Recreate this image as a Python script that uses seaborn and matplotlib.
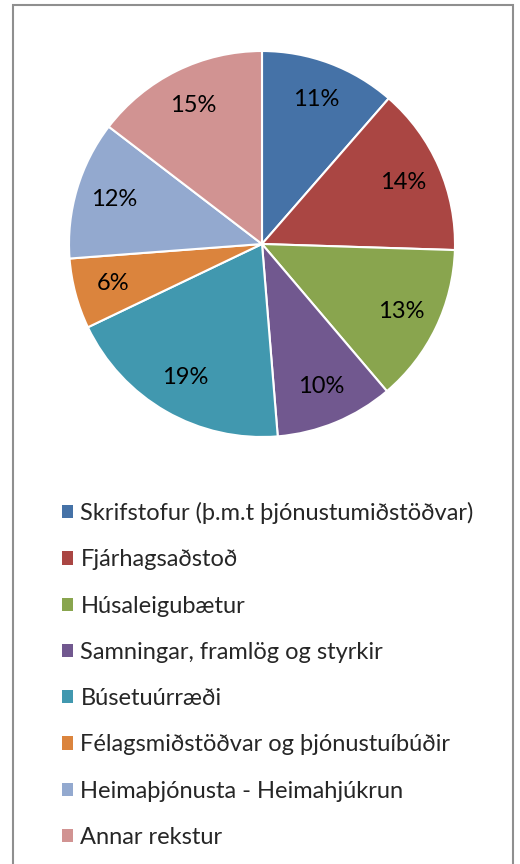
import numpy as np
import seaborn as sns
import matplotlib.pyplot as plt
from matplotlib.patches import Rectangle, Patch

# -----------------------------------------------------
# DATA
# -----------------------------------------------------

categories = [
    "Skrifstofur (þ.m.t þjónustumiðstöðvar)",
    "Fjárhagsaðstoð",
    "Húsaleigubætur",
    "Samningar, framlög og styrkir",
    "Búsetuúrræði",
    "Félagsmiðstöðvar og þjónustuíbúðir",
    "Heimaþjónusta - Heimahjúkrun",
    "Annar rekstur",
]
shares = [11.4, 14.1, 13.3, 9.9, 19.2, 5.9, 11.6, 14.6]
colors = ["#4572A7", "#AA4643", "#89A54E", "#71588F",
          "#4198AF", "#DB843D", "#93A9CF", "#D19392"]

# -----------------------------------------------------
# STYLE
# -----------------------------------------------------

sns.set_theme(style="white")
plt.rcParams["font.family"] = ["Lato", "DejaVu Sans"]

palette = sns.color_palette(colors)

W, H = 520, 864
FS = 17
fig = plt.figure(figsize=(W / 100, H / 100), dpi=100)
fig.patch.set_facecolor("white")

# outer frame of the chart area
fig.patches.append(Rectangle((13 / W, -0.05), 500 / W, 1 - 5 / H + 0.05,
                             transform=fig.transFigure, fill=False,
                             edgecolor="#8f8f8f", linewidth=1.5))

# -----------------------------------------------------
# PIE
# -----------------------------------------------------

cx, cy, r = 262, 244, 193
ax = fig.add_axes([(cx - r) / W, (H - cy - r) / H, 2 * r / W, 2 * r / H])

wedges, texts, autotexts = ax.pie(
    shares,
    colors=palette,
    startangle=90,
    counterclock=False,
    autopct="%.0f%%",
    pctdistance=0.8,
    radius=1,
    wedgeprops=dict(edgecolor="white", linewidth=1.5),
    textprops=dict(fontsize=FS, color="black"),
)
ax.set_xlim(-1, 1)
ax.set_ylim(-1, 1)
ax.set_aspect("equal")
ax.axis("off")

# -----------------------------------------------------
# LEGEND
# -----------------------------------------------------

handles = [Patch(facecolor=c, edgecolor="none") for c in palette]
fig.legend(handles, categories,
           loc="upper left", bbox_to_anchor=(62 / W, 1 - 502 / H),
           frameon=False, fontsize=FS,
           handlelength=0.48, handleheight=0.48, handletextpad=0.3,
           labelspacing=1.07, borderaxespad=0, borderpad=0)

fig.savefig("out.png", dpi=100)
